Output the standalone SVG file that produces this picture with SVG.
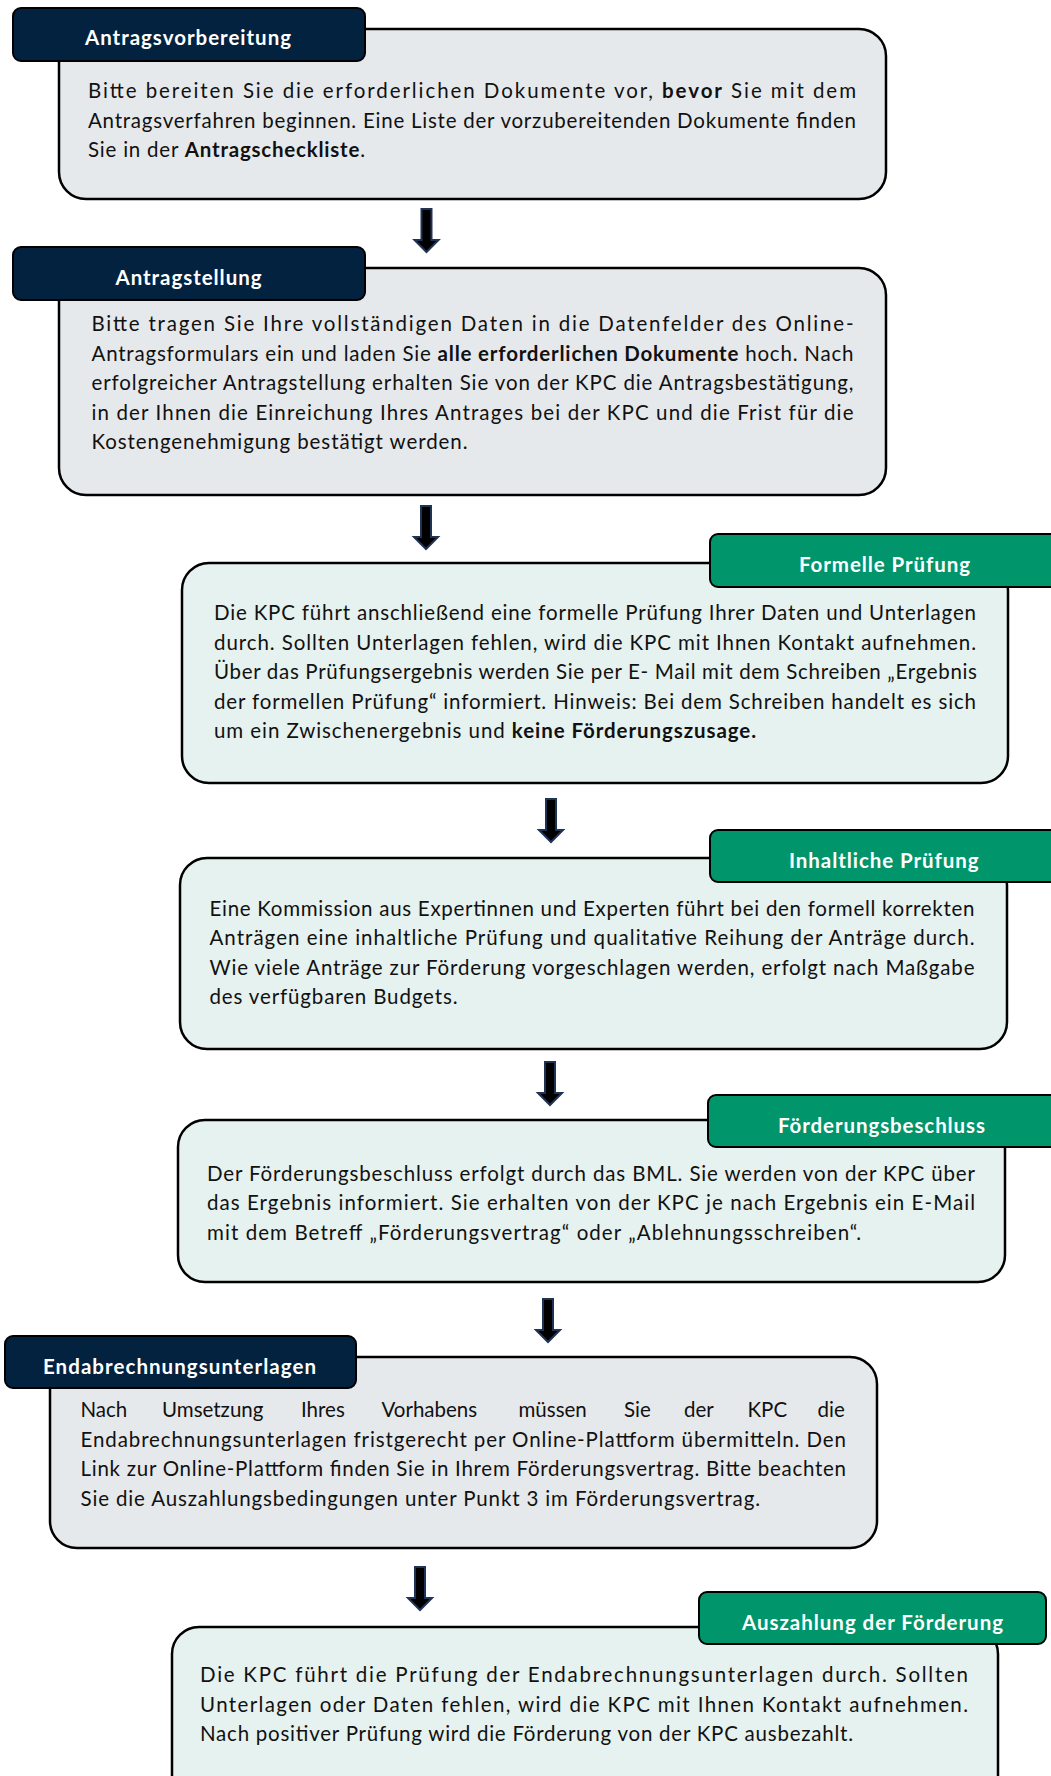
<svg xmlns="http://www.w3.org/2000/svg" width="1051" height="1776" viewBox="0 0 1051 1776">
<style>
.bodyG{fill:#e6e9ec;stroke:#000;stroke-width:2.5}
.bodyT{fill:#e6f2ef;stroke:#000;stroke-width:2.5}
.tabD{fill:#03223f;stroke:#000;stroke-width:2}
.tabG{fill:#00956b;stroke:#000;stroke-width:2}
.ht{font-family:Lato,"Liberation Sans",sans-serif;font-weight:bold;font-size:20.5px;fill:#fff}
.bt{font-family:Lato,"Liberation Sans",sans-serif;font-size:20.5px;fill:#111}
.b{font-weight:bold}
.arr{fill:#000;stroke:#1f3355;stroke-width:2;stroke-linejoin:miter}
</style>
<defs>
<path id="arrow" class="arr" d="M-5,0 H5 V31 H12 L0,43 L-12,31 H-5 Z"/>
</defs>

<g id="connectors">
<use href="#arrow" x="426.5" y="209"/>
<use href="#arrow" x="426" y="506"/>
<use href="#arrow" x="551" y="799"/>
<use href="#arrow" x="550" y="1062"/>
<use href="#arrow" x="548" y="1299"/>
<use href="#arrow" x="420" y="1567"/>
</g>

<g id="node-antragsvorbereitung">
<rect class="bodyG" x="59" y="29" width="827" height="170" rx="27"/>
<rect class="tabD" x="13" y="8" width="352" height="53" rx="8"/>
<text class="ht" x="85" y="45" textLength="206" lengthAdjust="spacing">Antragsvorbereitung</text>
<text class="bt" x="88" y="98" textLength="768" lengthAdjust="spacing">Bitte bereiten Sie die erforderlichen Dokumente vor, <tspan class="b">bevor</tspan> Sie mit dem</text>
<text class="bt" x="88" y="127.5" textLength="768" lengthAdjust="spacing">Antragsverfahren beginnen. Eine Liste der vorzubereitenden Dokumente finden</text>
<text class="bt" x="88" y="157" textLength="277" lengthAdjust="spacing">Sie in der <tspan class="b">Antragscheckliste</tspan>.</text>
</g>

<g id="node-antragstellung">
<rect class="bodyG" x="59" y="268" width="827" height="227" rx="27"/>
<rect class="tabD" x="13" y="247" width="352" height="53" rx="8"/>
<text class="ht" x="115.5" y="284.5" textLength="146" lengthAdjust="spacing">Antragstellung</text>
<text class="bt" x="91.5" y="331" textLength="762" lengthAdjust="spacing">Bitte tragen Sie Ihre vollständigen Daten in die Datenfelder des Online-</text>
<text class="bt" x="91.5" y="360.5" textLength="762" lengthAdjust="spacing">Antragsformulars ein und laden Sie <tspan class="b">alle erforderlichen Dokumente</tspan> hoch. Nach</text>
<text class="bt" x="91.5" y="390" textLength="762" lengthAdjust="spacing">erfolgreicher Antragstellung erhalten Sie von der KPC die Antragsbestätigung,</text>
<text class="bt" x="91.5" y="419.5" textLength="762" lengthAdjust="spacing">in der Ihnen die Einreichung Ihres Antrages bei der KPC und die Frist für die</text>
<text class="bt" x="91.5" y="449" textLength="376" lengthAdjust="spacing">Kostengenehmigung bestätigt werden.</text>
</g>

<g id="node-formelle-pruefung">
<rect class="bodyT" x="182" y="563" width="826" height="220" rx="27"/>
<rect class="tabG" x="710" y="534" width="360" height="53" rx="8"/>
<text class="ht" x="799" y="572" textLength="171" lengthAdjust="spacing">Formelle Prüfung</text>
<text class="bt" x="214" y="620" textLength="762" lengthAdjust="spacing">Die KPC führt anschließend eine formelle Prüfung Ihrer Daten und Unterlagen</text>
<text class="bt" x="214" y="649.5" textLength="762" lengthAdjust="spacing">durch. Sollten Unterlagen fehlen, wird die KPC mit Ihnen Kontakt aufnehmen.</text>
<text class="bt" x="214" y="679" textLength="763" lengthAdjust="spacing">Über das Prüfungsergebnis werden Sie per E- Mail mit dem Schreiben „Ergebnis</text>
<text class="bt" x="214" y="708.5" textLength="762" lengthAdjust="spacing">der formellen Prüfung“ informiert. Hinweis: Bei dem Schreiben handelt es sich</text>
<text class="bt" x="214" y="738" textLength="542" lengthAdjust="spacing">um ein Zwischenergebnis und <tspan class="b">keine Förderungszusage.</tspan></text>
</g>

<g id="node-inhaltliche-pruefung">
<rect class="bodyT" x="180" y="858" width="827" height="191" rx="27"/>
<rect class="tabG" x="710" y="830" width="360" height="52" rx="8"/>
<text class="ht" x="789" y="867.5" textLength="189.5" lengthAdjust="spacing">Inhaltliche Prüfung</text>
<text class="bt" x="209.5" y="915.5" textLength="765" lengthAdjust="spacing">Eine Kommission aus Expertinnen und Experten führt bei den formell korrekten</text>
<text class="bt" x="209.5" y="945" textLength="765" lengthAdjust="spacing">Anträgen eine inhaltliche Prüfung und qualitative Reihung der Anträge durch.</text>
<text class="bt" x="209.5" y="974.5" textLength="765" lengthAdjust="spacing">Wie viele Anträge zur Förderung vorgeschlagen werden, erfolgt nach Maßgabe</text>
<text class="bt" x="209.5" y="1004" textLength="248" lengthAdjust="spacing">des verfügbaren Budgets.</text>
</g>

<g id="node-foerderungsbeschluss">
<rect class="bodyT" x="178" y="1120" width="827" height="162" rx="27"/>
<rect class="tabG" x="708" y="1095" width="360" height="52" rx="8"/>
<text class="ht" x="778" y="1132.5" textLength="207" lengthAdjust="spacing">Förderungsbeschluss</text>
<text class="bt" x="207" y="1180.5" textLength="768" lengthAdjust="spacing">Der Förderungsbeschluss erfolgt durch das BML. Sie werden von der KPC über</text>
<text class="bt" x="207" y="1210" textLength="768" lengthAdjust="spacing">das Ergebnis informiert. Sie erhalten von der KPC je nach Ergebnis ein E-Mail</text>
<text class="bt" x="207" y="1239.5" textLength="654" lengthAdjust="spacing">mit dem Betreff „Förderungsvertrag“ oder „Ablehnungsschreiben“.</text>
</g>

<g id="node-endabrechnungsunterlagen">
<rect class="bodyG" x="50" y="1357" width="827" height="191" rx="27"/>
<rect class="tabD" x="5" y="1336" width="351" height="52" rx="8"/>
<text class="ht" x="43" y="1373.5" textLength="273" lengthAdjust="spacing">Endabrechnungsunterlagen</text>
<text class="bt" y="1417"><tspan x="80.5">Nach</tspan><tspan x="162">Umsetzung</tspan><tspan x="301">Ihres</tspan><tspan x="381.5">Vorhabens</tspan><tspan x="518.5">müssen</tspan><tspan x="624">Sie</tspan><tspan x="684">der</tspan><tspan x="747.5">KPC</tspan><tspan x="817.5">die</tspan></text>
<text class="bt" x="80.5" y="1446.5" textLength="765.5" lengthAdjust="spacing">Endabrechnungsunterlagen fristgerecht per Online-Plattform übermitteln. Den</text>
<text class="bt" x="80.5" y="1476" textLength="765.5" lengthAdjust="spacing">Link zur Online-Plattform finden Sie in Ihrem Förderungsvertrag. Bitte beachten</text>
<text class="bt" x="80.5" y="1505.5" textLength="679.5" lengthAdjust="spacing">Sie die Auszahlungsbedingungen unter Punkt 3 im Förderungsvertrag.</text>
</g>

<g id="node-auszahlung">
<rect class="bodyT" x="172" y="1627" width="826" height="200" rx="27"/>
<rect class="tabG" x="699" y="1592" width="347" height="52" rx="8"/>
<text class="ht" x="742" y="1629.5" textLength="261" lengthAdjust="spacing">Auszahlung der Förderung</text>
<text class="bt" x="200" y="1682" textLength="768" lengthAdjust="spacing">Die KPC führt die Prüfung der Endabrechnungsunterlagen durch. Sollten</text>
<text class="bt" x="200" y="1711.5" textLength="768" lengthAdjust="spacing">Unterlagen oder Daten fehlen, wird die KPC mit Ihnen Kontakt aufnehmen.</text>
<text class="bt" x="200" y="1741" textLength="653" lengthAdjust="spacing">Nach positiver Prüfung wird die Förderung von der KPC ausbezahlt.</text>
</g>
</svg>
